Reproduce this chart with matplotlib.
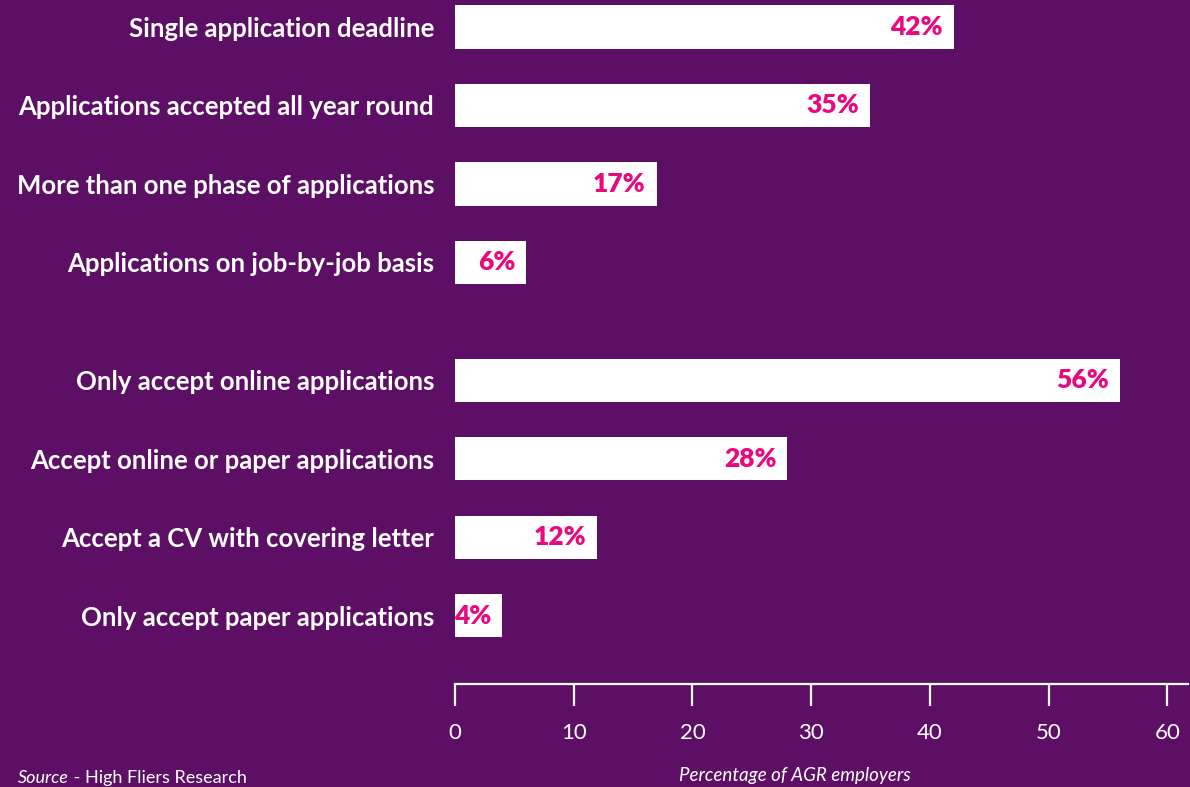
import matplotlib.pyplot as plt
import numpy as np

# данные: две группы ответов работодателей
categories = [
    "Single application deadline",
    "Applications accepted all year round",
    "More than one phase of applications",
    "Applications on job-by-job basis",
    "Only accept online applications",
    "Accept online or paper applications",
    "Accept a CV with covering letter",
    "Only accept paper applications",
]
values = [42, 35, 17, 6, 56, 28, 12, 4]
positions = [0, 1, 2, 3, 4.5, 5.5, 6.5, 7.5]
xticks = [0, 10, 20, 30, 40, 50, 60]

bg = "#5d0f66"
pink = "#e8097f"
plt.rcParams['font.family'] = ['Lato', 'DejaVu Sans']

fig = plt.figure(figsize=(11.9, 7.87), dpi=100, facecolor=bg)
ax = fig.add_axes([455 / 1190, 103 / 787, (1188 - 455) / 1190, 684 / 787])
ax.set_facecolor(bg)

ax.barh(positions, values, height=0.55, color="white", edgecolor="none")
for y, v in zip(positions, values):
    ax.annotate(f"{v}%", (v, y), xytext=(-8, 0), textcoords="offset points",
                ha="right", va="center", color=pink, fontsize=19, fontweight="heavy")

ax.set_xlim(0, 61.75)
ax.set_ylim(8.37, -0.344)

ax.set_yticks(positions)
ax.set_yticklabels(categories, color="white", fontsize=18.5, fontweight="bold")
ax.tick_params(axis="y", length=0, pad=15)

ax.set_xticks(xticks)
ax.set_xticklabels([str(t) for t in xticks], color="white", fontsize=16)
ax.tick_params(axis="x", direction="out", length=16, width=1.6, color="white", pad=12)

for s in ["top", "right", "left"]:
    ax.spines[s].set_visible(False)
ax.spines["bottom"].set_color("white")
ax.spines["bottom"].set_linewidth(1.6)

fig.text(795 / 1190, 1 - 775 / 787, "Percentage of AGR employers", color="white",
         fontsize=13.5, style="italic", ha="center", va="center")

# подпись источника: "Source" курсивом, остальное обычным
src = fig.text(18 / 1190, 1 - 778 / 787, "Source", color="white", fontsize=13,
               style="italic", ha="left", va="center")
r = fig.canvas.get_renderer()
bb = src.get_window_extent(renderer=r)
fig.text(bb.x1 / 1190, 1 - 778 / 787, " - High Fliers Research", color="white",
         fontsize=13, ha="left", va="center")

fig.savefig("out.png", facecolor=bg)
